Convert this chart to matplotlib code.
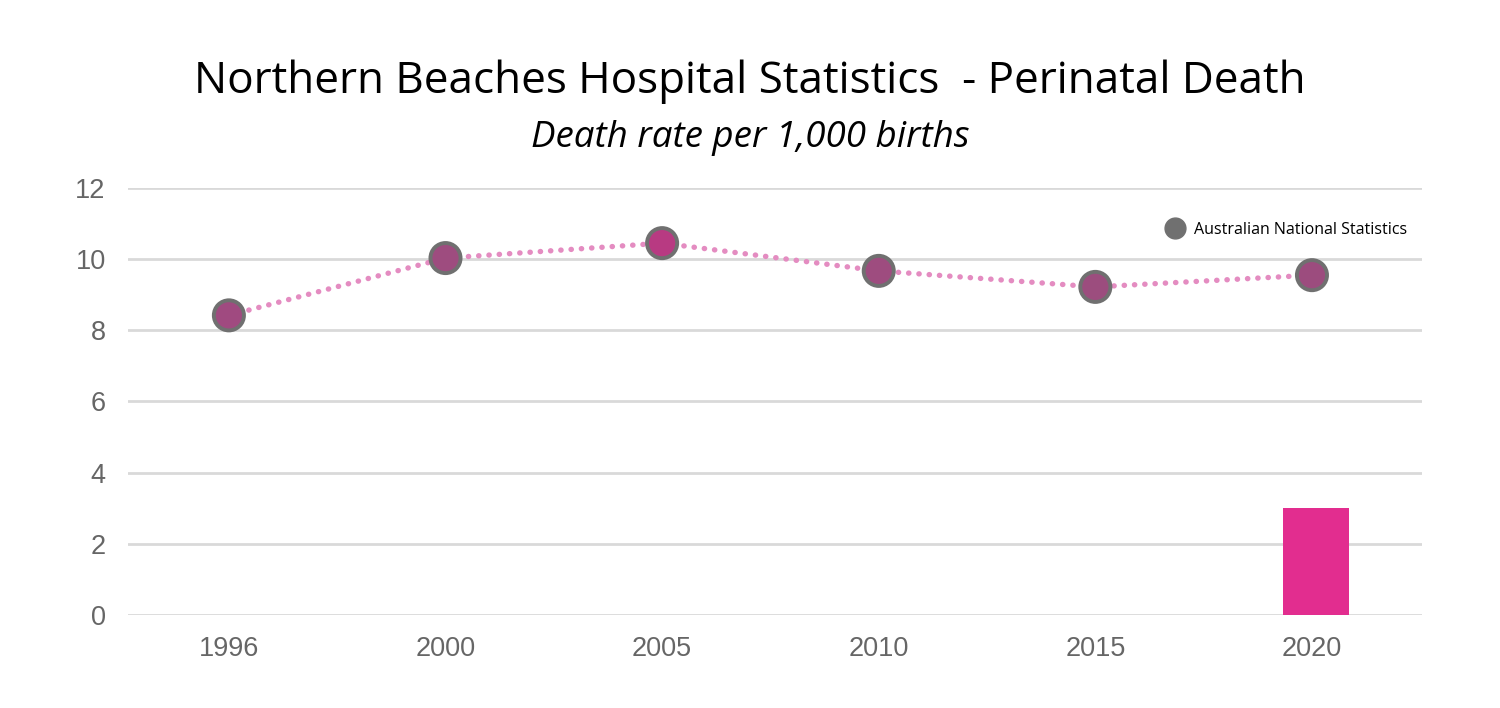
import numpy as np
import matplotlib.pyplot as plt
from matplotlib.lines import Line2D

# data
years = ['1996', '2000', '2005', '2010', '2015', '2020']
national_rate = [8.42, 10.03, 10.45, 9.67, 9.22, 9.55]   # Australian National Statistics
hospital_rate = [0, 0, 0, 0, 0, 3.0]                      # Northern Beaches Hospital (only 2020)

x = np.arange(len(years))

fig = plt.figure(figsize=(15, 7.08), dpi=100)
ax = fig.add_axes([0.0853, 0.1314, 0.8627, 0.6031])

# grey horizontal gridlines
for t in range(0, 13, 2):
    ax.axhline(t, color='#d9d9d9', lw=2, zorder=0)

# hospital bar (only 2020 has a value)
bar_x = [i + 0.018 for i, v in enumerate(hospital_rate) if v > 0]
bar_h = [v for v in hospital_rate if v > 0]
ax.bar(bar_x, bar_h, width=0.305, color='#e22d8f', zorder=2)

# national line: dotted pink line + grey-edged markers
ax.plot(x, national_rate, color='#e48cc1', lw=3.9, linestyle=(0, (0.05, 1.85)),
        dash_capstyle='round', zorder=3, clip_on=False)
face = ['#a04a80', '#9e4c7f', '#b83a82', '#9e4c7f', '#9c4d7e', '#9c4c7e']
ax.scatter(x, national_rate, s=470, c=face, edgecolors='#707070', linewidths=2.8,
           zorder=4, clip_on=False)

ax.set_xlim(-0.466, 5.508)
ax.set_ylim(0, 12)
ax.set_yticks(range(0, 13, 2))
ax.set_xticks(x)
ax.set_xticklabels(years)
for s in ax.spines.values():
    s.set_visible(False)
ax.tick_params(length=0, labelsize=19.5, labelcolor='#666666')
for lab in ax.get_xticklabels() + ax.get_yticklabels():
    lab.set_family('Liberation Sans')
ax.tick_params(axis='x', pad=15)
ax.tick_params(axis='y', pad=16)

# legend
handle = Line2D([], [], marker='o', linestyle='none', markersize=15,
                markerfacecolor='#707070', markeredgecolor='#707070')
leg = ax.legend([handle], ['Australian National Statistics'], loc='upper right',
                bbox_to_anchor=(1.0, 0.955), frameon=False, handletextpad=0.25,
                prop={'family': 'Open Sans', 'size': 11.5})

# titles
fig.text(0.5, 0.885, 'Northern Beaches Hospital Statistics  - Perinatal Death',
         ha='center', va='center', family='Open Sans', fontsize=31.7)
fig.text(0.5, 0.805, 'Death rate per 1,000 births', ha='center', va='center',
         family='Open Sans', style='italic', fontsize=26.5)

fig.savefig('out.png', dpi=100, facecolor='white')
